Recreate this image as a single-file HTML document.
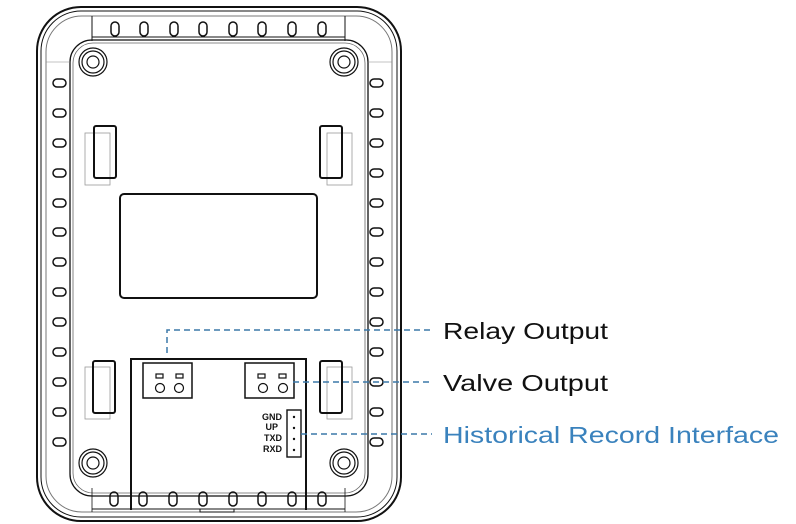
<!DOCTYPE html>
<html><head><meta charset="utf-8"><style>
html,body{margin:0;padding:0;background:#fff;width:796px;height:524px;overflow:hidden}
svg{display:block}
text{font-family:"Liberation Sans",sans-serif}
</style></head><body>
<svg width="796" height="524" viewBox="0 0 796 524" xmlns="http://www.w3.org/2000/svg">
<g fill="none" stroke="#111">
<!-- outer housing -->
<rect x="37" y="7" width="364" height="514" rx="44" stroke-width="2"/>
<rect x="41" y="11" width="356" height="506" rx="40" stroke-width="1"/>
<rect x="46" y="16" width="346" height="496" rx="36" stroke-width="1" stroke="#777"/>
<rect x="70" y="40" width="298" height="456" rx="22" stroke-width="1.3"/>
<rect x="73" y="43" width="292" height="450" rx="20" stroke-width="0.8" stroke="#666"/>
<!-- top band -->
<line x1="92" y1="16" x2="92" y2="41" stroke-width="1"/>
<line x1="345" y1="16" x2="345" y2="41" stroke-width="1"/>
<line x1="92" y1="37" x2="345" y2="37" stroke-width="1"/>
<line x1="46" y1="62" x2="70" y2="62" stroke-width="0.6" stroke="#888"/>
<line x1="368" y1="62" x2="392" y2="62" stroke-width="0.6" stroke="#888"/>
<!-- top slots -->
<g stroke-width="1.5">
<rect x="111" y="22" width="8" height="14" rx="4"/><rect x="140" y="22" width="8" height="14" rx="4"/>
<rect x="170" y="22" width="8" height="14" rx="4"/><rect x="199" y="22" width="8" height="14" rx="4"/>
<rect x="229" y="22" width="8" height="14" rx="4"/><rect x="258" y="22" width="8" height="14" rx="4"/>
<rect x="288" y="22" width="8" height="14" rx="4"/><rect x="318" y="22" width="8" height="14" rx="4"/>
</g>
<!-- side slots -->
<g stroke-width="1.5">
<rect x="53" y="79" width="13" height="8" rx="4"/><rect x="53" y="109" width="13" height="8" rx="4"/>
<rect x="53" y="139" width="13" height="8" rx="4"/><rect x="53" y="169" width="13" height="8" rx="4"/>
<rect x="53" y="199" width="13" height="8" rx="4"/><rect x="53" y="228" width="13" height="8" rx="4"/>
<rect x="53" y="258" width="13" height="8" rx="4"/><rect x="53" y="288" width="13" height="8" rx="4"/>
<rect x="53" y="318" width="13" height="8" rx="4"/><rect x="53" y="348" width="13" height="8" rx="4"/>
<rect x="53" y="378" width="13" height="8" rx="4"/><rect x="53" y="408" width="13" height="8" rx="4"/>
<rect x="53" y="438" width="13" height="8" rx="4"/>
<rect x="370" y="79" width="13" height="8" rx="4"/><rect x="370" y="109" width="13" height="8" rx="4"/>
<rect x="370" y="139" width="13" height="8" rx="4"/><rect x="370" y="169" width="13" height="8" rx="4"/>
<rect x="370" y="199" width="13" height="8" rx="4"/><rect x="370" y="228" width="13" height="8" rx="4"/>
<rect x="370" y="258" width="13" height="8" rx="4"/><rect x="370" y="288" width="13" height="8" rx="4"/>
<rect x="370" y="318" width="13" height="8" rx="4"/><rect x="370" y="348" width="13" height="8" rx="4"/>
<rect x="370" y="378" width="13" height="8" rx="4"/><rect x="370" y="408" width="13" height="8" rx="4"/>
<rect x="370" y="438" width="13" height="8" rx="4"/>
</g>
<!-- screws -->
<g stroke-width="1.2">
<circle cx="93" cy="62" r="14"/><circle cx="93" cy="62" r="11"/><circle cx="93" cy="62" r="6"/>
<circle cx="344" cy="62" r="14"/><circle cx="344" cy="62" r="11"/><circle cx="344" cy="62" r="6"/>
<circle cx="93" cy="463" r="14"/><circle cx="93" cy="463" r="11"/><circle cx="93" cy="463" r="6"/>
<circle cx="344" cy="463" r="14"/><circle cx="344" cy="463" r="11"/><circle cx="344" cy="463" r="6"/>
</g>
<!-- clips -->
<g>
<rect x="85" y="133" width="25" height="52" stroke="#999" stroke-width="0.8"/>
<rect x="94" y="126" width="22" height="52" rx="2" stroke-width="2"/>
<rect x="327" y="133" width="25" height="52" stroke="#999" stroke-width="0.8"/>
<rect x="320" y="126" width="22" height="52" rx="2" stroke-width="2"/>
<rect x="85" y="367" width="25" height="52" stroke="#999" stroke-width="0.8"/>
<rect x="93" y="361" width="22" height="52" rx="2" stroke-width="2"/>
<rect x="327" y="367" width="25" height="52" stroke="#999" stroke-width="0.8"/>
<rect x="320" y="361" width="22" height="52" rx="2" stroke-width="2"/>
</g>
<!-- display -->
<rect x="120" y="194" width="197" height="104" rx="4" stroke-width="2"/>
<!-- board -->
<path d="M131 510 V359 H306 V510" stroke-width="2"/>
<line x1="92" y1="488" x2="92" y2="512" stroke-width="0.8"/>
<line x1="345" y1="488" x2="345" y2="512" stroke-width="0.8"/>
<line x1="92" y1="509" x2="345" y2="509" stroke-width="1"/>
<path d="M200 509 v3 h34 v-3" stroke-width="1"/>
<!-- terminal blocks -->
<rect x="143" y="363" width="49" height="35" stroke-width="1.5"/>
<rect x="245" y="363" width="49" height="35" stroke-width="1.5"/>
<g stroke-width="1.2">
<rect x="156" y="374" width="7" height="4"/><rect x="176" y="374" width="7" height="4"/>
<circle cx="160" cy="388" r="4.5"/><circle cx="179" cy="388" r="4.5"/>
<rect x="258" y="374" width="7" height="4"/><rect x="279" y="374" width="7" height="4"/>
<circle cx="263" cy="388" r="4.5"/><circle cx="283" cy="388" r="4.5"/>
</g>
<!-- header -->
<rect x="287" y="410" width="14" height="47" stroke-width="1.4"/>
<!-- bottom slots -->
<g stroke-width="1.5">
<rect x="110" y="492" width="8" height="14" rx="4"/><rect x="139" y="492" width="8" height="14" rx="4"/>
<rect x="169" y="492" width="8" height="14" rx="4"/><rect x="199" y="492" width="8" height="14" rx="4"/>
<rect x="229" y="492" width="8" height="14" rx="4"/><rect x="258" y="492" width="8" height="14" rx="4"/>
<rect x="288" y="492" width="8" height="14" rx="4"/><rect x="318" y="492" width="8" height="14" rx="4"/>
</g>
</g>
<g fill="#111">
<circle cx="294" cy="417" r="1.2"/><circle cx="294" cy="428" r="1.2"/><circle cx="294" cy="439" r="1.2"/><circle cx="294" cy="450" r="1.2"/>
</g>
<g font-size="9" font-weight="bold" fill="#111" text-anchor="end">
<text x="282" y="420">GND</text><text x="278" y="430">UP</text>
<text x="282" y="441">TXD</text><text x="282" y="452">RXD</text>
</g>
<!-- leaders -->
<g fill="none" stroke="#3c78a8" stroke-width="1.5" stroke-dasharray="6,4">
<path d="M167 353 V330 H432"/>
<path d="M293 382 H432"/>
<path d="M301 434 H432"/>
</g>
<text x="443" y="339" font-size="23" fill="#111" textLength="165" lengthAdjust="spacingAndGlyphs">Relay Output</text>
<text x="443" y="391" font-size="23" fill="#111" textLength="165" lengthAdjust="spacingAndGlyphs">Valve Output</text>
<text x="443" y="443" font-size="23" fill="#3a82bd" textLength="336" lengthAdjust="spacingAndGlyphs">Historical Record Interface</text>
</svg>
</body></html>
